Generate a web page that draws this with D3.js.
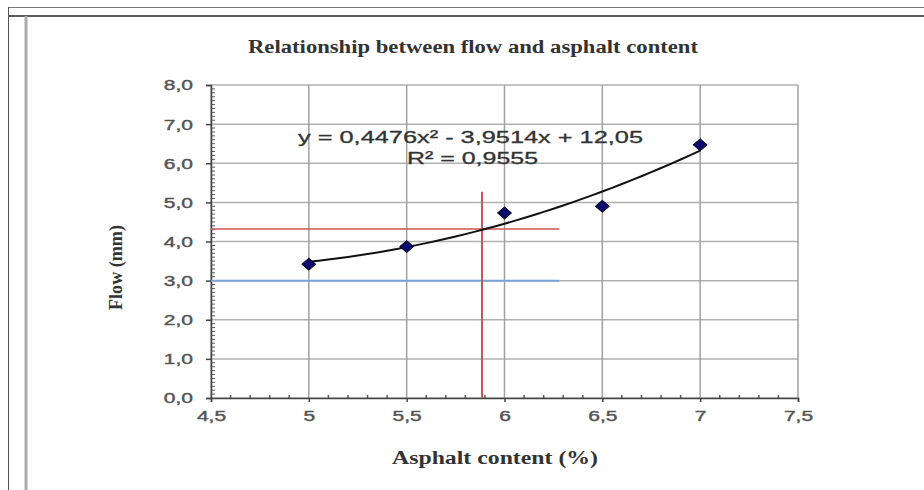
<!DOCTYPE html>
<html><head><meta charset="utf-8">
<script src="https://cdn.jsdelivr.net/npm/d3@7"></script>
<style>body{margin:0;background:#fff}svg{display:block}</style>
</head><body>
<svg id="c" width="924" height="490"></svg>
<script>
const asphaltContent = [5, 5.5, 6, 6.5, 7];
const flowValues = [3.42, 3.87, 4.73, 4.9, 6.47];
const xTicks = [4.5, 5, 5.5, 6, 6.5, 7, 7.5];
const yTicks = [0, 1, 2, 3, 4, 5, 6, 7, 8];
const fitCoeffs = [0.4476, -3.9514, 12.05];
const equationText = "y = 0,4476x² - 3,9514x + 12,05";
const r2Text = "R² = 0,9555";
const redH = {y: 4.32, x0: 4.5, x1: 6.28};
const redV = {x: 5.885, y0: 0, y1: 5.27};
const blueH = {y: 3.0, x0: 4.5, x1: 6.28};

const svg = d3.select("#c");
const SANS = "Liberation Sans, Arial, sans-serif";
const SERIF = "Liberation Serif, Times New Roman, serif";
// frame
svg.append("line").attr("x1",8).attr("x2",924).attr("y1",7.5).attr("y2",7.5).attr("stroke","#777").attr("stroke-width",1);
svg.append("line").attr("x1",8).attr("x2",924).attr("y1",16).attr("y2",16).attr("stroke","#222").attr("stroke-width",1.5);
svg.append("line").attr("x1",8.5).attr("x2",8.5).attr("y1",7).attr("y2",490).attr("stroke","#555").attr("stroke-width",1);
svg.append("line").attr("x1",26).attr("x2",26).attr("y1",16).attr("y2",490).attr("stroke","#aaa").attr("stroke-width",3);

const x = d3.scaleLinear().domain([4.5, 7.5]).range([211, 798]);
const y = d3.scaleLinear().domain([0, 8]).range([398, 85]);

// grid
const g = svg.append("g");
g.selectAll(".gy").data(yTicks).join("line")
  .attr("x1", x(4.5)).attr("x2", x(7.5)).attr("y1", d=>y(d)).attr("y2", d=>y(d))
  .attr("stroke", "#b0b0b0").attr("stroke-width", 1.5);
g.selectAll(".gx").data(xTicks).join("line")
  .attr("y1", y(0)).attr("y2", y(8)).attr("x1", d=>x(d)).attr("x2", d=>x(d))
  .attr("stroke", "#a0a0a0").attr("stroke-width", 1.5);

// axes
const ya = svg.append("g").attr("transform", `translate(${x(4.5)},0)`)
  .call(d3.axisLeft(y).tickValues(yTicks).tickSize(5).tickFormat(d=>d3.format(".1f")(d).replace(".", ",")));
const xa = svg.append("g").attr("transform", `translate(0,${y(0)})`)
  .call(d3.axisBottom(x).tickValues(xTicks).tickSize(4).tickFormat(d=>String(d).replace(".", ",")));
const SX = 1.5;
[ya, xa].forEach(a=>{
  a.select(".domain").attr("stroke","#444").attr("stroke-width",1.5);
  a.selectAll(".tick line").attr("stroke","#444").attr("stroke-width",1.5);
  a.selectAll("text").attr("fill","#555").attr("stroke","#555").attr("stroke-width",0.4)
    .attr("font-family",SANS).attr("font-size",14);
});
ya.selectAll("text").attr("x",-18/SX).attr("dy","0.35em").attr("transform",`scale(${SX},1)`);
xa.selectAll("text").attr("y",13).attr("transform",`scale(${SX},1)`);
// minor ticks
const yMinor = d3.range(0, 80).map(i=>i/10).filter(v=>Math.abs(v-Math.round(v))>1e-6);
svg.append("g").selectAll("line").data(yMinor).join("line")
  .attr("x1", x(4.5)).attr("x2", x(4.5)+4).attr("y1", d=>y(d)).attr("y2", d=>y(d))
  .attr("stroke","#555").attr("stroke-width",1);
const xMinor = d3.range(45, 75).map(i=>i/10).filter(v=>Math.abs(v*2-Math.round(v*2))>1e-6);
svg.append("g").selectAll("line").data(xMinor).join("line")
  .attr("y1", y(0)).attr("y2", y(0)-3).attr("x1", d=>x(d)).attr("x2", d=>x(d))
  .attr("stroke","#555").attr("stroke-width",1.5);

// reference lines
svg.append("line").attr("x1",x(blueH.x0)).attr("x2",x(blueH.x1)).attr("y1",y(blueH.y)).attr("y2",y(blueH.y))
  .attr("stroke","#7aa3d8").attr("stroke-width",2);
svg.append("line").attr("x1",x(redH.x0)).attr("x2",x(redH.x1)).attr("y1",y(redH.y)).attr("y2",y(redH.y))
  .attr("stroke","#cc5555").attr("stroke-width",1.5);
svg.append("line").attr("x1",x(redV.x)).attr("x2",x(redV.x)).attr("y1",y(redV.y0)).attr("y2",y(redV.y1))
  .attr("stroke","#cc5555").attr("stroke-width",2);

// trend line
const fx = v => fitCoeffs[0]*v*v + fitCoeffs[1]*v + fitCoeffs[2];
const trendX = d3.range(0, 41).map(i => 5 + i*0.05);
svg.append("path").datum(trendX)
  .attr("d", d3.line().x(d=>x(d)).y(d=>y(fx(d))))
  .attr("fill","none").attr("stroke","#111").attr("stroke-width",2);

// markers
const pts = asphaltContent.map((a,i)=>({a, f: flowValues[i]}));
svg.append("g").selectAll("path").data(pts).join("path")
  .attr("transform", d=>`translate(${x(d.a)},${y(d.f)})`)
  .attr("d", "M0,-6L7,0L0,6L-7,0Z")
  .attr("fill","#0a0a70").attr("stroke","#000").attr("stroke-width",1);

// equation labels
svg.append("text").attr("x", 298).attr("y", 143).attr("textLength",345).attr("lengthAdjust","spacingAndGlyphs")
  .attr("font-family",SANS).attr("font-size",17).attr("fill","#333").attr("stroke","#333").attr("stroke-width",0.3).text(equationText);
svg.append("text").attr("x", 407).attr("y", 164).attr("textLength",131).attr("lengthAdjust","spacingAndGlyphs")
  .attr("font-family",SANS).attr("font-size",17).attr("fill","#333").attr("stroke","#333").attr("stroke-width",0.3).text(r2Text);

// titles
svg.append("text").attr("x", 248).attr("y", 53).attr("textLength",450).attr("lengthAdjust","spacingAndGlyphs")
  .attr("font-family",SERIF).attr("font-weight","bold").attr("font-size",19).attr("fill","#333")
  .text("Relationship between flow and asphalt content");
svg.append("text").attr("x", 392).attr("y", 464).attr("textLength",206).attr("lengthAdjust","spacingAndGlyphs")
  .attr("font-family",SERIF).attr("font-weight","bold").attr("font-size",18).attr("fill","#333")
  .text("Asphalt content (%)");
svg.append("text").attr("transform","translate(122,310) rotate(-90)").attr("textLength",85).attr("lengthAdjust","spacingAndGlyphs")
  .attr("font-family",SERIF).attr("font-weight","bold").attr("font-size",18).attr("fill","#333")
  .text("Flow (mm)");
</script>
</body></html>
